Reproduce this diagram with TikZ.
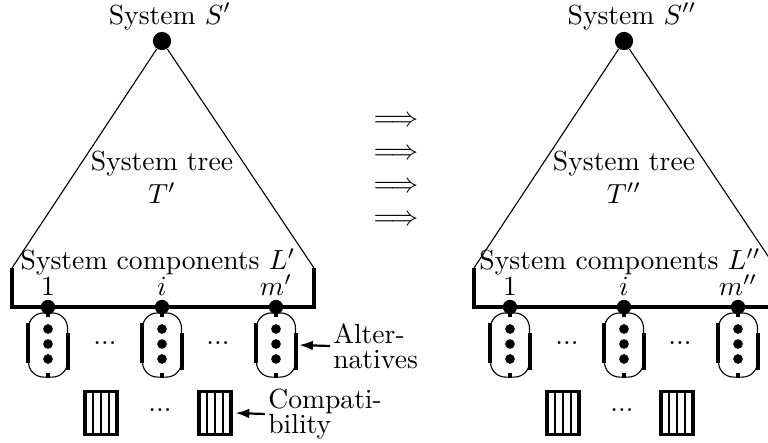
\documentclass[tikz,border=0pt]{standalone}
\usetikzlibrary{arrows.meta}
\tikzset{
  blob/.style={circle,fill,inner sep=0pt,minimum size=#1},
  altbox/.style={draw,rounded corners=5.4pt,minimum width=14.1pt,minimum height=23.2pt,inner sep=0pt},
  compbox/.style={draw,very thick,minimum width=11.6pt,minimum height=15.4pt,inner sep=0pt},
}
\begin{document}
\begin{tikzpicture}[x=0.362pt,y=-0.362pt]
  \useasboundingbox (0,0) rectangle (768,442);
  \foreach \ox/\pr/\k in {0/\prime/a, 462/\prime\prime/b} {
    % tree and its root
    \node[blob=6.6pt] (root\k) at (162+\ox,41) {};
    \node[anchor=base] (sys\k) at (170+\ox,24) {System $S^{\pr}$};
    \coordinate (bl\k) at (12+\ox,268);
    \coordinate (br\k) at (314+\ox,268);
    \draw (bl\k) -- (root\k) -- (br\k);
    \draw[very thick] (bl\k) -- (12+\ox,307) -- (314+\ox,307) -- (br\k);
    \node[align=center] (tree\k) at (162+\ox,177) {System tree\\$T^{\pr}$};
    \node (comp\k) at (158+\ox,262) {System components $L^{\pr}$};
    % components with their alternatives
    \foreach \n/\x/\lab in {1/48/1, i/162/i, m/276/{m^{\pr}}} {
      \node[blob=5.2pt,label={[label distance=-2pt]above:$\lab$}] (c\n\k) at (\x+\ox,307) {};
      \node[altbox] (alt\n\k) at (\x+\ox,345) {};
      \draw[very thick] (c\n\k) -- (alt\n\k.north) -- ++(0,5);
      \draw[very thick] (alt\n\k.south) -- ++(0,-5);
      \draw[very thick] (alt\n\k.west) ++(0,-22) -- ++(0,40);
      \draw[very thick] (alt\n\k.east) ++(0,-12) -- ++(0,37);
      \foreach \j in {1,2,3}
        \node[blob=3.5pt] (d\n\k\j) at (\x+\ox,314+15*\j) {};
    }
    \node (dots1\k) at (105+\ox,343) {...};
    \node (dots2\k) at (218+\ox,343) {...};
    % compatibility
    \foreach \n/\x in {1/101, 2/215} {
      \node[compbox] (cb\n\k) at (\x+\ox,413) {};
      \foreach \d in {-2.9,0,2.9}
        \draw[thick] ([xshift=\d pt]cb\n\k.north) -- ([xshift=\d pt]cb\n\k.south);
    }
    \node (dots3\k) at (160+\ox,410) {...};
  }
  \node[align=center] (trans) at (396,171) {$\Longrightarrow$\\$\Longrightarrow$\\$\Longrightarrow$\\$\Longrightarrow$};
  \node[align=left,anchor=west,inner sep=1pt] (altlab) at (330,346) {Alter-\\[-3pt]natives};
  \draw[{Latex[length=5pt,width=3.5pt]}-,thick] ([xshift=1.1pt]altma.east) -- (altlab.west);
  \node[align=left,anchor=west,inner sep=1pt] (complab) at (265,414) {Compati-\\[-3pt]bility};
  \draw[{Latex[length=5pt,width=3.5pt]}-,thick] ([xshift=1pt]cb2a.east) -- (complab.west);
\end{tikzpicture}
\end{document}
